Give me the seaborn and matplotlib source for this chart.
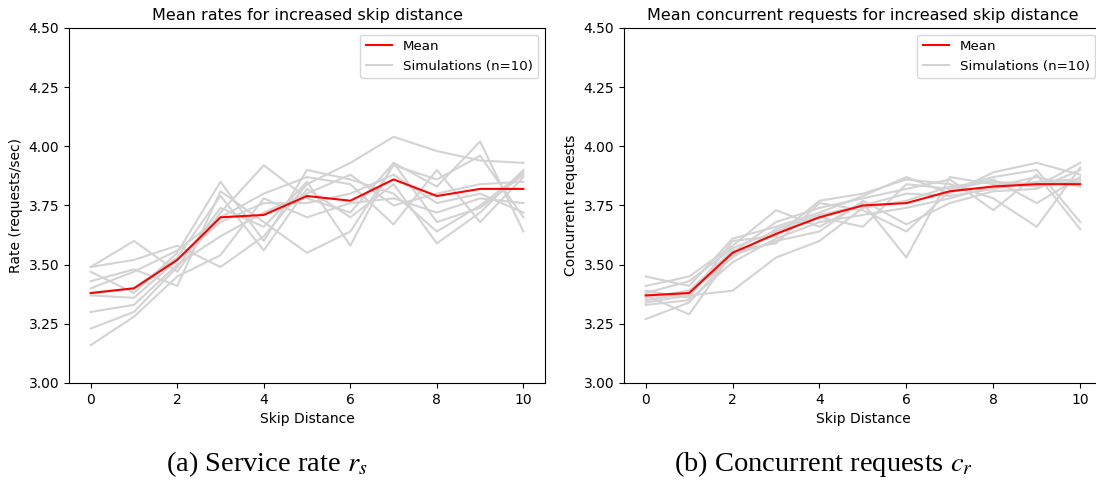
import numpy as np
import matplotlib
matplotlib.use("Agg")
import matplotlib.pyplot as plt
import seaborn as sns

skip = list(range(11))

# (a) service rate
rate_mean = [3.38, 3.40, 3.52, 3.70, 3.71, 3.79, 3.77, 3.86, 3.79, 3.82, 3.82]
rate_sims = [
    [3.49, 3.52, 3.58, 3.49, 3.62, 3.84, 3.93, 4.04, 3.98, 3.94, 3.93],
    [3.49, 3.60, 3.47, 3.72, 3.92, 3.78, 3.72, 3.93, 3.83, 4.02, 3.64],
    [3.47, 3.38, 3.55, 3.85, 3.60, 3.90, 3.86, 3.80, 3.64, 3.75, 3.89],
    [3.43, 3.48, 3.41, 3.81, 3.68, 3.55, 3.64, 3.92, 3.86, 3.96, 3.70],
    [3.40, 3.47, 3.56, 3.70, 3.80, 3.87, 3.84, 3.67, 3.90, 3.68, 3.87],
    [3.38, 3.40, 3.53, 3.79, 3.56, 3.82, 3.70, 3.84, 3.59, 3.72, 3.90],
    [3.37, 3.36, 3.52, 3.68, 3.76, 3.76, 3.80, 3.88, 3.76, 3.80, 3.72],
    [3.30, 3.33, 3.50, 3.62, 3.72, 3.80, 3.88, 3.75, 3.80, 3.84, 3.85],
    [3.23, 3.30, 3.49, 3.74, 3.66, 3.85, 3.58, 3.93, 3.68, 3.74, 3.88],
    [3.16, 3.28, 3.45, 3.54, 3.78, 3.70, 3.76, 3.78, 3.72, 3.78, 3.76],
]

# (b) concurrent requests
conc_mean = [3.37, 3.38, 3.55, 3.63, 3.70, 3.75, 3.76, 3.81, 3.83, 3.84, 3.84]
conc_sims = [
    [3.45, 3.41, 3.61, 3.66, 3.72, 3.79, 3.87, 3.80, 3.89, 3.93, 3.88],
    [3.41, 3.45, 3.58, 3.73, 3.66, 3.76, 3.53, 3.87, 3.84, 3.83, 3.93],
    [3.39, 3.36, 3.60, 3.62, 3.77, 3.80, 3.86, 3.84, 3.78, 3.66, 3.91],
    [3.38, 3.43, 3.57, 3.64, 3.70, 3.66, 3.84, 3.82, 3.87, 3.90, 3.68],
    [3.37, 3.29, 3.55, 3.68, 3.74, 3.78, 3.82, 3.86, 3.73, 3.88, 3.65],
    [3.36, 3.39, 3.56, 3.59, 3.76, 3.73, 3.64, 3.81, 3.86, 3.76, 3.87],
    [3.35, 3.38, 3.53, 3.65, 3.71, 3.75, 3.80, 3.79, 3.82, 3.85, 3.86],
    [3.34, 3.37, 3.39, 3.53, 3.60, 3.74, 3.77, 3.83, 3.85, 3.84, 3.85],
    [3.33, 3.35, 3.51, 3.61, 3.68, 3.71, 3.74, 3.78, 3.83, 3.87, 3.83],
    [3.27, 3.34, 3.54, 3.60, 3.64, 3.77, 3.67, 3.76, 3.81, 3.82, 3.90],
]

titles = ["Mean rates for increased skip distance",
          "Mean concurrent requests for increased skip distance"]
ylabels = ["Rate (requests/sec)", "Concurrent requests"]
captions = [r"(a) Service rate $r_s$", r"(b) Concurrent requests $c_r$"]
yticks = [3.00, 3.25, 3.50, 3.75, 4.00, 4.25, 4.50]

plt.rcParams["mathtext.fontset"] = "stix"

fig = plt.figure(figsize=(10.96, 4.87), dpi=100)
ax1 = fig.add_axes([0.0630, 0.2136, 0.4343, 0.729])
ax2 = fig.add_axes([0.5693, 0.2136, 0.4361, 0.729])

for ax, sims, mean, title, ylab in [(ax1, rate_sims, rate_mean, titles[0], ylabels[0]),
                                      (ax2, conc_sims, conc_mean, titles[1], ylabels[1])]:
    for i, s in enumerate(sims):
        sns.lineplot(x=skip, y=s, ax=ax, color="lightgray", linewidth=1.5,
                     label="Simulations (n=10)" if i == 0 else None)
    sns.lineplot(x=skip, y=mean, ax=ax, color="red", linewidth=1.5, label="Mean")
    ax.set_ylim(3.0, 4.5)
    ax.set_xlim(-0.5, 10.5)
    ax.set_yticks(yticks)
    ax.set_yticklabels([f"{t:.2f}" for t in yticks])
    ax.set_xticks([0, 2, 4, 6, 8, 10])
    ax.set_title(title, fontsize=11.5)
    ax.set_xlabel("Skip Distance")
    ax.set_ylabel(ylab)
    h, l = ax.get_legend_handles_labels()
    ax.legend(h[::-1], l[::-1], loc="upper right", fontsize=9.6)

fig.text(0.2436, 0.033, captions[0], ha="center", va="baseline",
         fontsize=20.5, family="Liberation Serif")
fig.text(0.751, 0.033, captions[1], ha="center", va="baseline",
         fontsize=20.5, family="Liberation Serif")

fig.savefig("out.png", dpi=100)
